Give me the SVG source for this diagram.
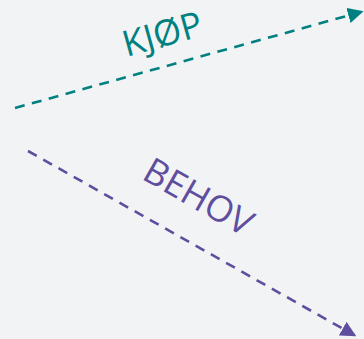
<svg xmlns="http://www.w3.org/2000/svg" width="364" height="339" viewBox="0 0 364 339">
<style>
.lbl{font-family:"Open Sans","Liberation Sans",sans-serif;font-size:36px;text-anchor:middle;dominant-baseline:central}
.c{fill:none;stroke-width:2.6;stroke-dasharray:10 7.5}
</style>
<defs>
<marker id="at" markerWidth="6" markerHeight="6" refX="5" refY="3" orient="auto" markerUnits="strokeWidth"><path d="M0,0 L6,3 L0,6 Z" fill="#008080"/></marker>
<marker id="ap" markerWidth="6" markerHeight="6" refX="5" refY="3" orient="auto" markerUnits="strokeWidth"><path d="M0,0 L6,3 L0,6 Z" fill="#5f4e9e"/></marker>
</defs>
<rect width="364" height="339" fill="#f2f3f5"/>
<g id="connectors">
<line class="c" x1="15" y1="108" x2="361" y2="12" stroke="#008080" marker-end="url(#at)"/>
<line class="c" x1="28" y1="151" x2="354" y2="335" stroke="#5f4e9e" marker-end="url(#ap)"/>
</g>
<g id="kjop"><text class="lbl" fill="#008080" transform="translate(162,33) rotate(-15.6)">KJØP</text></g>
<g id="behov"><text class="lbl" fill="#5f4e9e" transform="translate(199,196) rotate(29.6)">BEHOV</text></g>
</svg>
